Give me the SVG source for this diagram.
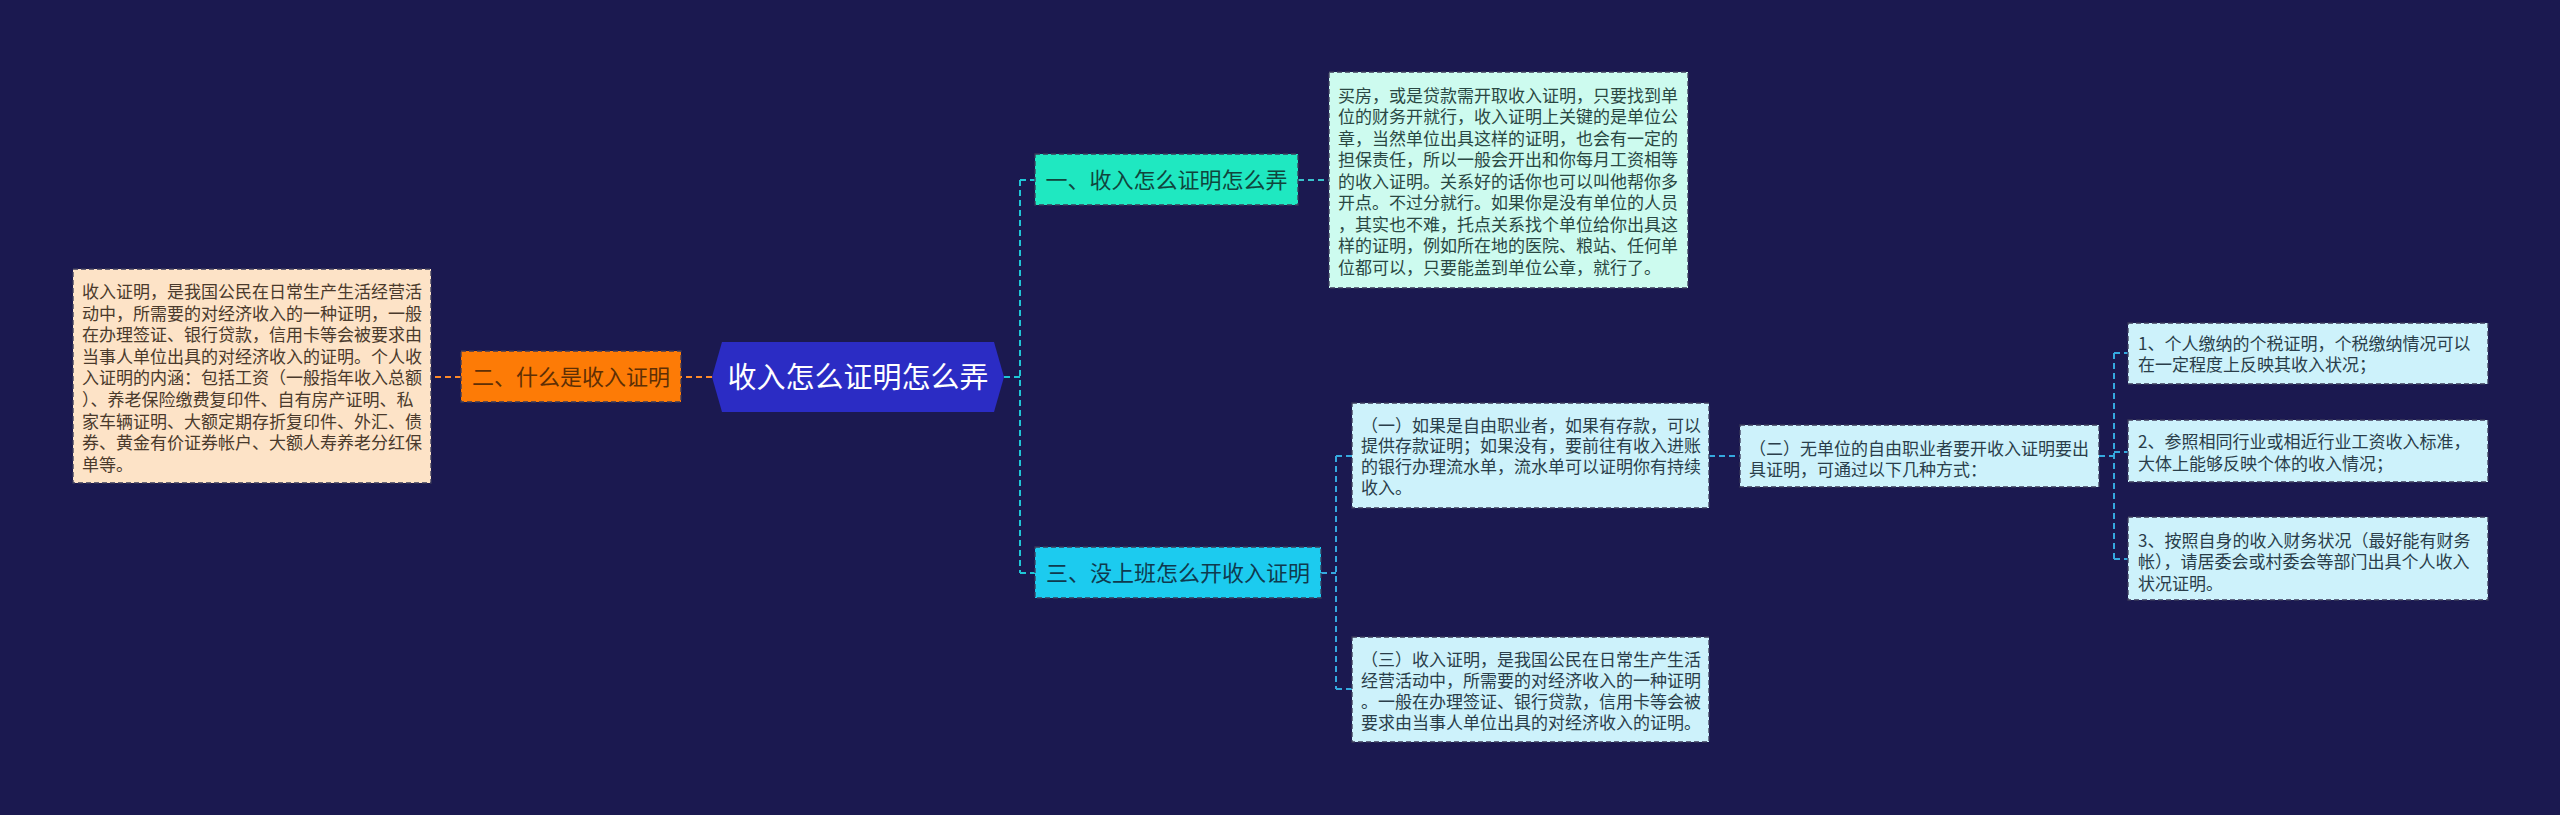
<svg xmlns="http://www.w3.org/2000/svg" width="2560" height="815" viewBox="0 0 2560 815">
<style>
text{font-family:"Noto Sans CJK SC","Noto Sans",sans-serif;}
.t{font-size:17px;}
.box{stroke:#3a3a5a;stroke-width:1.3;stroke-dasharray:5 3;}
.c{fill:none;stroke-width:2;stroke-dasharray:6 4;}
</style>
<rect width="2560" height="815" fill="#1b1950"/>
<g id="connectors">
<path class="c" stroke="#ff8a28" d="M712 377H681M461 377H431"/>
<path class="c" stroke="#1fc6d6" d="M1004 377H1020M1020 180V573M1020 180H1035M1020 573H1035"/>
<path class="c" stroke="#39c2cc" d="M1298 180H1329"/>
<path class="c" stroke="#35a9df" d="M1321 573H1336M1336 456V689M1336 456H1352M1336 689H1352M1709 456H1740M2099 456H2114M2114 353V559M2114 353H2128M2114 452H2128M2114 559H2128"/>
</g>
<g id="root">
<polygon points="712,377 722,342 994,342 1004,377 994,412 722,412" fill="#2b2cc4"/>
<text x="858" y="388" font-size="29" fill="#ffffff" text-anchor="middle">收入怎么证明怎么弄</text>
</g>
<g id="n2">
<rect class="box" x="461" y="351" width="220" height="51" fill="#fd7b06"/>
<text x="571" y="385" font-size="22" fill="#5e2f05" text-anchor="middle">二、什么是收入证明</text>
</g>
<g id="n2c">
<rect class="box" x="73" y="269" width="358" height="214" fill="#fde3c7"/>
<text class="t" fill="#4a3a2c"><tspan x="82" y="298">收入证明，是我国公民在日常生产生活经营活</tspan><tspan x="82" y="319.6">动中，所需要的对经济收入的一种证明，一般</tspan><tspan x="82" y="341.2">在办理签证、银行贷款，信用卡等会被要求由</tspan><tspan x="82" y="362.8">当事人单位出具的对经济收入的证明。个人收</tspan><tspan x="82" y="384.4">入证明的内涵：包括工资（一般指年收入总额</tspan><tspan x="82" y="406">）、养老保险缴费复印件、自有房产证明、私</tspan><tspan x="82" y="427.6">家车辆证明、大额定期存折复印件、外汇、债</tspan><tspan x="82" y="449.2">券、黄金有价证券帐户、大额人寿养老分红保</tspan><tspan x="82" y="470.8">单等。</tspan></text>
</g>
<g id="n1">
<rect class="box" x="1035" y="154" width="263" height="51" fill="#1fe8c1"/>
<text x="1166.5" y="188" font-size="22" fill="#10453d" text-anchor="middle">一、收入怎么证明怎么弄</text>
</g>
<g id="n1c">
<rect class="box" x="1329" y="72" width="359" height="216" fill="#cdfbef"/>
<text class="t" fill="#2a4843"><tspan x="1338" y="101.5">买房，或是贷款需开取收入证明，只要找到单</tspan><tspan x="1338" y="123">位的财务开就行，收入证明上关键的是单位公</tspan><tspan x="1338" y="144.5">章，当然单位出具这样的证明，也会有一定的</tspan><tspan x="1338" y="166">担保责任，所以一般会开出和你每月工资相等</tspan><tspan x="1338" y="187.5">的收入证明。关系好的话你也可以叫他帮你多</tspan><tspan x="1338" y="209">开点。不过分就行。如果你是没有单位的人员</tspan><tspan x="1338" y="230.5">，其实也不难，托点关系找个单位给你出具这</tspan><tspan x="1338" y="252">样的证明，例如所在地的医院、粮站、任何单</tspan><tspan x="1338" y="273.5">位都可以，只要能盖到单位公章，就行了。</tspan></text>
</g>
<g id="n3">
<rect class="box" x="1035" y="547" width="286" height="51" fill="#1ccbef"/>
<text x="1178" y="581" font-size="22" fill="#0f3a4e" text-anchor="middle">三、没上班怎么开收入证明</text>
</g>
<g id="n3a">
<rect class="box" x="1352" y="403" width="357" height="105" fill="#cdf2fb"/>
<text class="t" fill="#2a3e4a"><tspan x="1361" y="431.5">（一）如果是自由职业者，如果有存款，可以</tspan><tspan x="1361" y="452.3">提供存款证明；如果没有，要前往有收入进账</tspan><tspan x="1361" y="473.1">的银行办理流水单，流水单可以证明你有持续</tspan><tspan x="1361" y="493.9">收入。</tspan></text>
</g>
<g id="n3b">
<rect class="box" x="1740" y="425" width="359" height="62" fill="#cdf2fb"/>
<text class="t" fill="#2a3e4a"><tspan x="1749" y="455">（二）无单位的自由职业者要开收入证明要出</tspan><tspan x="1749" y="476">具证明，可通过以下几种方式：</tspan></text>
</g>
<g id="n3c">
<rect class="box" x="1352" y="637" width="357" height="105" fill="#cdf2fb"/>
<text class="t" fill="#2a3e4a"><tspan x="1361" y="665.5">（三）收入证明，是我国公民在日常生产生活</tspan><tspan x="1361" y="686.5">经营活动中，所需要的对经济收入的一种证明</tspan><tspan x="1361" y="707.5">。一般在办理签证、银行贷款，信用卡等会被</tspan><tspan x="1361" y="728.5">要求由当事人单位出具的对经济收入的证明。</tspan></text>
</g>
<g id="r1">
<rect class="box" x="2128" y="323" width="360" height="61" fill="#cdf2fb"/>
<text class="t" fill="#2a3e4a"><tspan x="2138" y="349.5">1、个人缴纳的个税证明，个税缴纳情况可以</tspan><tspan x="2138" y="371">在一定程度上反映其收入状况；</tspan></text>
</g>
<g id="r2">
<rect class="box" x="2128" y="420" width="360" height="62" fill="#cdf2fb"/>
<text class="t" fill="#2a3e4a"><tspan x="2138" y="448">2、参照相同行业或相近行业工资收入标准，</tspan><tspan x="2138" y="470">大体上能够反映个体的收入情况；</tspan></text>
</g>
<g id="r3">
<rect class="box" x="2128" y="517" width="360" height="83" fill="#cdf2fb"/>
<text class="t" fill="#2a3e4a"><tspan x="2138" y="546.5">3、按照自身的收入财务状况（最好能有财务</tspan><tspan x="2138" y="568">帐），请居委会或村委会等部门出具个人收入</tspan><tspan x="2138" y="589.5">状况证明。</tspan></text>
</g>
</svg>
